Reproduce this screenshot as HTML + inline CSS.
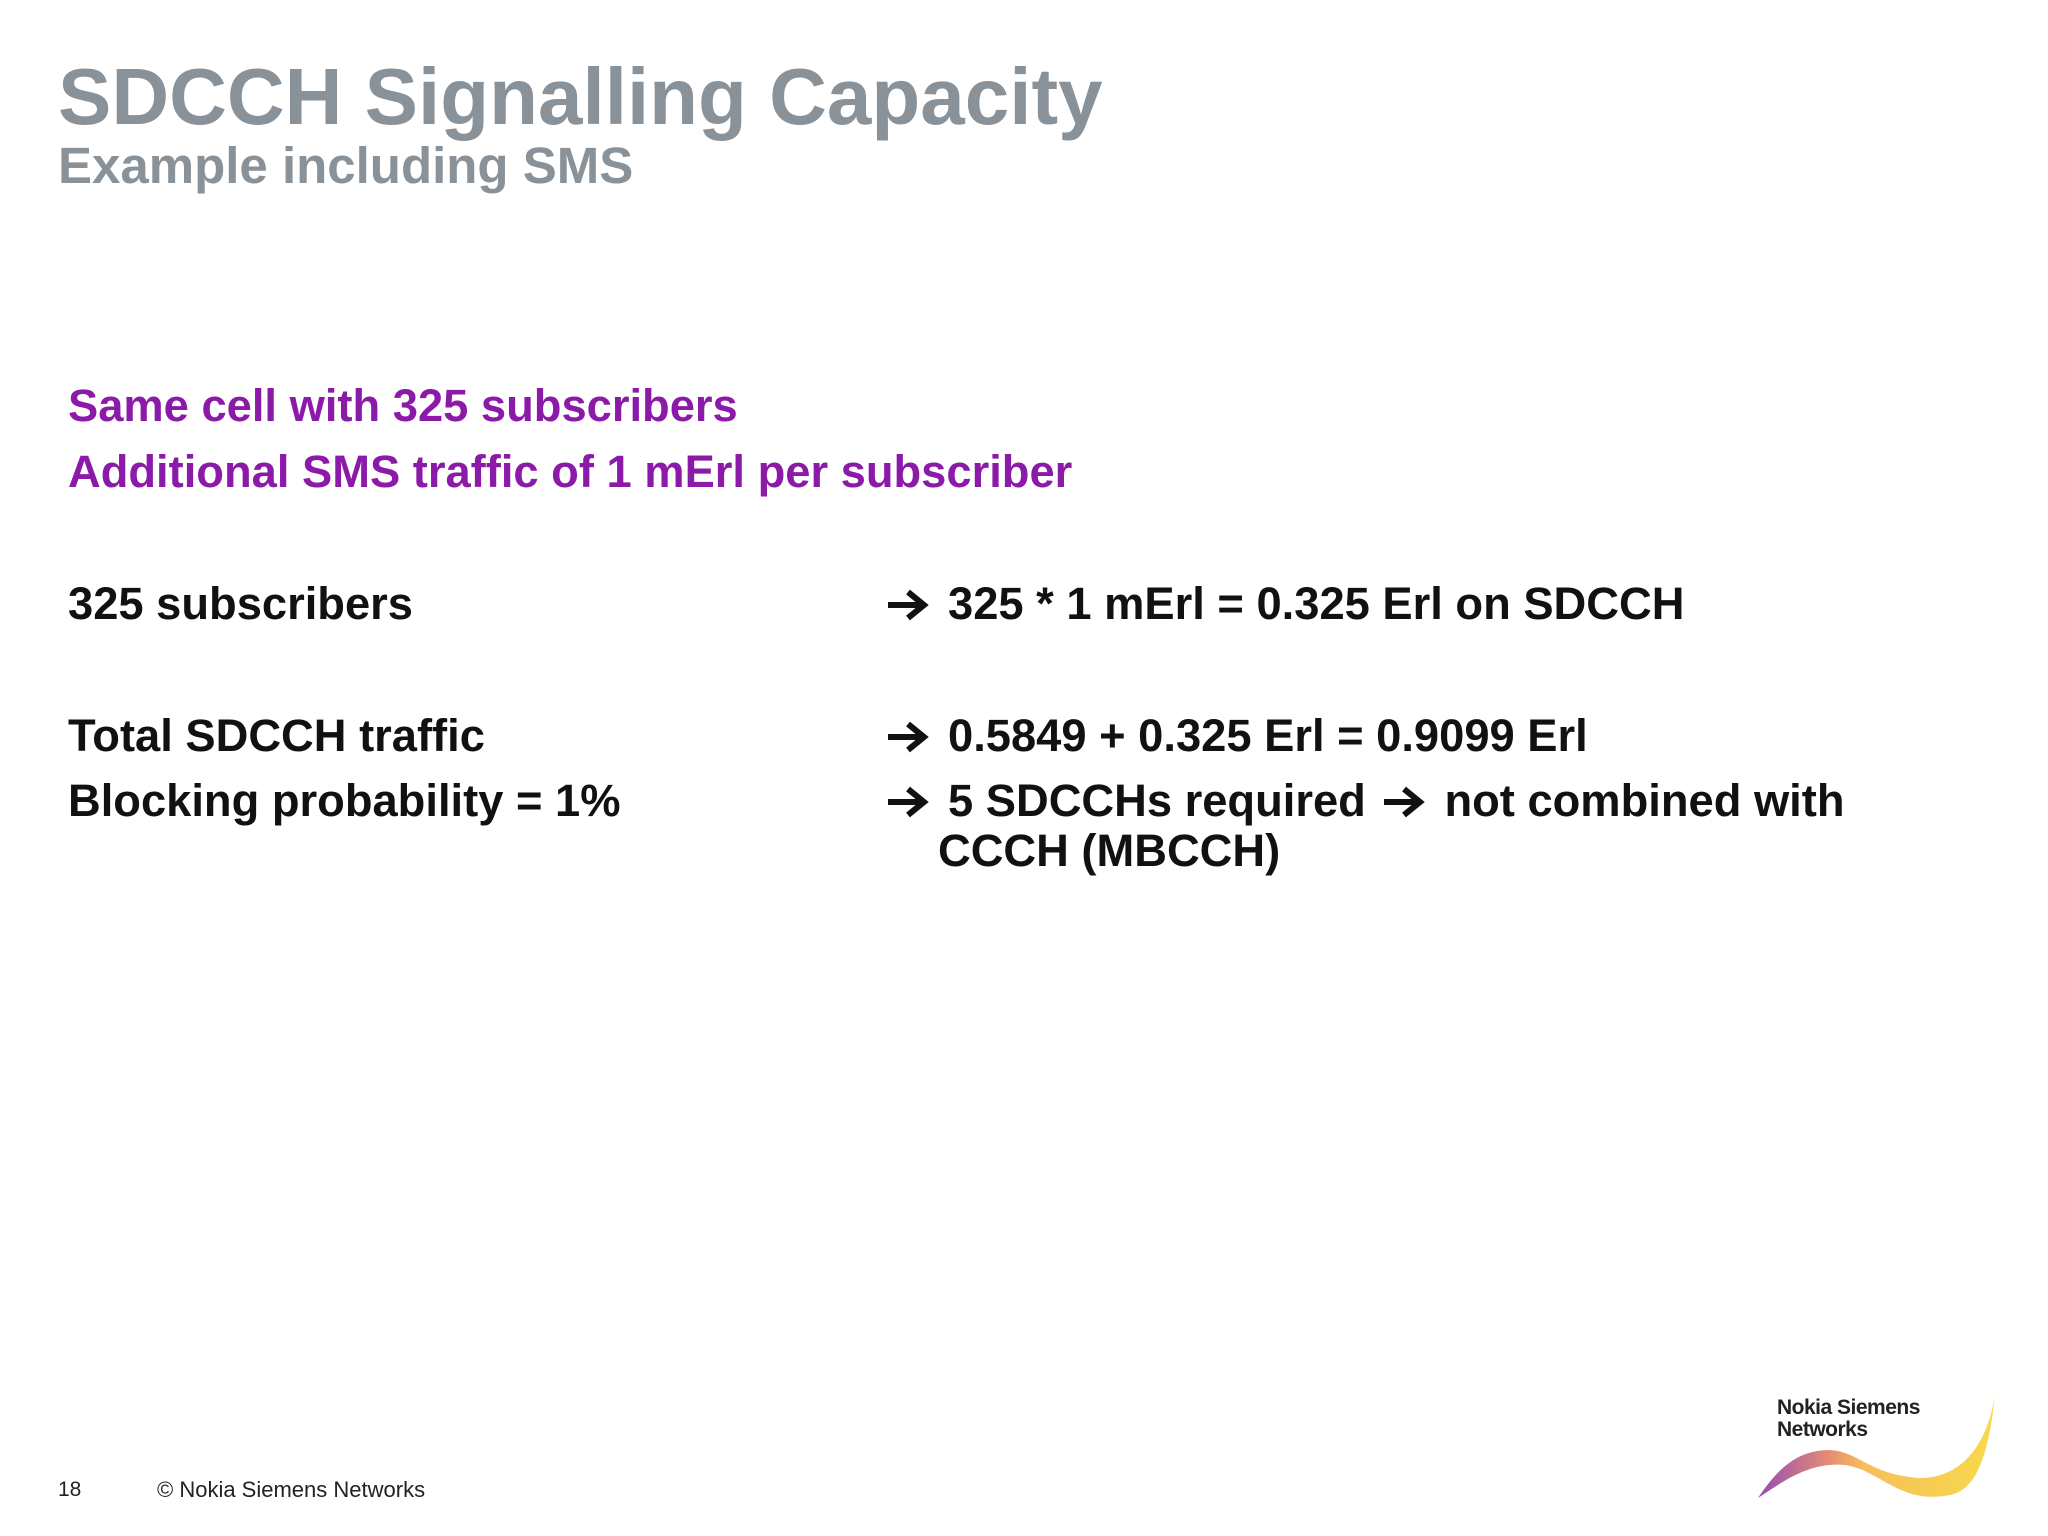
<!DOCTYPE html>
<html><head><meta charset="utf-8"><style>
body{margin:0;width:2048px;height:1536px;background:#fff;position:relative;overflow:hidden;font-family:"Liberation Sans",sans-serif}
.t{position:absolute;line-height:1;white-space:nowrap;font-weight:bold}
.a{display:inline-block;width:44px;height:34px;vertical-align:-3px;margin-right:18px}
</style></head><body>
<div class="t" style="left:58px;top:57px;font-size:80px;color:#8a9299">SDCCH Signalling Capacity</div>
<div class="t" style="left:58px;top:140px;font-size:51px;color:#8a9299">Example including SMS</div>
<div class="t" style="left:68px;top:383px;font-size:45.3px;color:#8b1aa8">Same cell with 325 subscribers</div>
<div class="t" style="left:68px;top:449px;font-size:45.3px;color:#8b1aa8">Additional SMS traffic of 1 mErl per subscriber</div>
<div class="t" style="left:68px;top:581px;font-size:45.3px;color:#111">325 subscribers</div>
<div class="t" style="left:886px;top:581px;font-size:45.3px;color:#111"><svg class="a" viewBox="0 0 44 34"><path d="M2 17H36M22 4L38 17L22 30" stroke="#111" stroke-width="6" fill="none"/></svg>325 * 1 mErl = 0.325 Erl on SDCCH</div>
<div class="t" style="left:68px;top:713px;font-size:45.3px;color:#111">Total SDCCH traffic</div>
<div class="t" style="left:886px;top:713px;font-size:45.3px;color:#111"><svg class="a" viewBox="0 0 44 34"><path d="M2 17H36M22 4L38 17L22 30" stroke="#111" stroke-width="6" fill="none"/></svg>0.5849 + 0.325 Erl = 0.9099 Erl</div>
<div class="t" style="left:68px;top:778px;font-size:45.3px;color:#111">Blocking probability = 1%</div>
<div class="t" style="left:886px;top:778px;font-size:45.3px;color:#111"><svg class="a" viewBox="0 0 44 34"><path d="M2 17H36M22 4L38 17L22 30" stroke="#111" stroke-width="6" fill="none"/></svg>5 SDCCHs required <svg class="a" style="margin-left:4px" viewBox="0 0 44 34"><path d="M2 17H36M22 4L38 17L22 30" stroke="#111" stroke-width="6" fill="none"/></svg>not combined with</div>
<div class="t" style="left:938px;top:828px;font-size:45.3px;color:#111">CCCH (MBCCH)</div>
<div class="t" style="left:58px;top:1479px;font-size:21px;font-weight:normal;color:#222">18</div>
<div class="t" style="left:157px;top:1479px;font-size:22px;font-weight:normal;color:#222">© Nokia Siemens Networks</div>
<div class="t" style="left:1777px;top:1397px;font-size:21px;color:#222;line-height:1.05;letter-spacing:-0.5px">Nokia Siemens<br>Networks</div>
<svg style="position:absolute;left:1750px;top:1390px" width="250" height="115">
<defs><linearGradient id="g" x1="0" x2="1"><stop offset="0" stop-color="#7a1fa0"/><stop offset="0.3" stop-color="#e07050"/><stop offset="0.45" stop-color="#f5b030"/><stop offset="1" stop-color="#f5d020"/></linearGradient></defs>
<path d="M8 108 C30 75 50 60 80 60 C110 62 120 85 170 88 C215 88 238 50 245 5 C238 70 225 100 200 105 C150 115 130 80 95 75 C60 72 35 90 8 108Z" fill="url(#g)" opacity="0.8"/>
</svg>
</body></html>
